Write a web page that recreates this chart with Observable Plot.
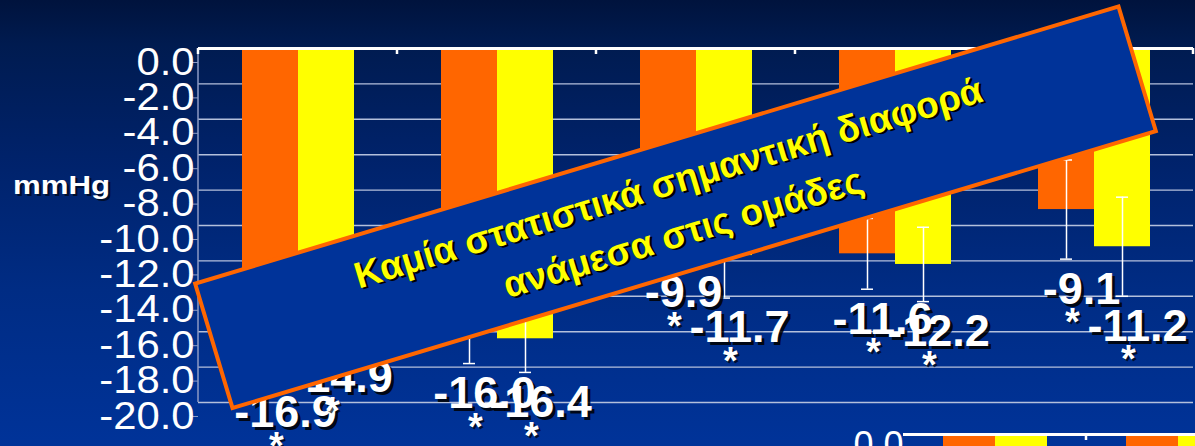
<!DOCTYPE html>
<html>
<head>
<meta charset="utf-8">
<script src="https://cdn.jsdelivr.net/npm/d3@7"></script>
<script src="https://cdn.jsdelivr.net/npm/@observablehq/plot@0.6"></script>
<style>
  html, body { margin: 0; padding: 0; width: 1195px; height: 446px; overflow: hidden; }
  body {
    position: relative;
    background: linear-gradient(to bottom, #00133d 0%, #001b50 10%, #00226a 35%, #002c84 65%, #003399 100%);
    font-family: "Liberation Sans", Arial, sans-serif;
  }
  #chart { position: absolute; left: 0; top: 0; }
  #chart2 { position: absolute; left: 0; top: 424px; }
  #ylabel {
    position: absolute; left: 13px; top: 172px; color: white; font-weight: bold;
    font-size: 26px; line-height: 1; transform: scaleX(1.2); transform-origin: left center;
    text-shadow: 2px 2px 0 rgba(0,0,0,0.6);
  }
</style>
</head>
<body>
<div id="chart"></div>
<div id="chart2"></div>
<div id="ylabel">mmHg</div>
<script>
// ---- data ----
const timepoints = ["T1", "T2", "T3", "T4", "T5"];
const series = ["Ομάδα Α", "Ομάδα Β"];
const valuesA = [-16.9, -16.0, -9.9, -11.6, -9.1];   // orange bars
const valuesB = [-14.9, -16.4, -11.7, -12.2, -11.2]; // yellow bars
const sdA = [2.0, 1.8, 2.2, 2.0, 2.8];
const sdB = [2.0, 1.9, 2.4, 2.1, 2.8];
const yTicks = [0, -2, -4, -6, -8, -10, -12, -14, -16, -18, -20];
const yLabel = "mmHg";
const bannerLines = ["Καμία στατιστικά σημαντική διαφορά", "ανάμεσα στις ομάδες"];
const seriesColors = ["#ff6600", "#ffff00"];
// second panel (only its top edge is visible at the bottom of the picture)
const panel2Timepoints = ["T1", "T2", "T3", "T4", "T5"];
const panel2A = valuesA;   // stand-in: bars extend beyond the visible area
const panel2B = valuesB;

const rows = timepoints.flatMap((t, i) => [
  {t, s: series[0], v: valuesA[i], sd: sdA[i]},
  {t, s: series[1], v: valuesB[i], sd: sdB[i]}
]);
const rows2 = panel2Timepoints.flatMap((t, i) => [
  {t, s: series[0], v: panel2A[i]},
  {t, s: series[1], v: panel2B[i]}
]);

const fmt = d => d.toFixed(1);
const lo = d => d.v - d.sd;
const hi = d => d.v + d.sd;
const baseStyle = {background: "transparent", color: "white", fontFamily: "'Liberation Sans', Arial, sans-serif", overflow: "visible", maxWidth: "none"};

const plot = Plot.plot({
  width: 1195,
  height: 446,
  marginLeft: 196,
  marginRight: 0,
  marginTop: 48,
  marginBottom: 44,
  style: baseStyle,
  fx: {domain: timepoints, padding: 0, axis: null},
  x: {domain: series, paddingInner: 0, paddingOuter: 0.75, axis: null},
  y: {domain: [-20, 0], axis: null},
  color: {domain: series, range: seriesColors},
  marks: [
    Plot.ruleY(yTicks.filter(d => d !== 0), {stroke: "#b4c0dc", strokeWidth: 1.4}),
    Plot.axisY({
      ticks: yTicks, tickFormat: fmt, tickSize: 8, tickPadding: -4, dy: 14,
      fontSize: 38, stroke: "#8c9ac4", fill: "white", label: null
    }),
    Plot.barY(rows, {fx: "t", x: "s", y: "v", fill: "s"}),
    Plot.ruleX(rows, {fx: "t", x: "s", y1: lo, y2: hi, stroke: "white", strokeWidth: 1.5}),
    Plot.tickY(rows, {fx: "t", x: "s", y: lo, stroke: "white", strokeWidth: 1.5, insetLeft: 22, insetRight: 22}),
    Plot.tickY(rows, {fx: "t", x: "s", y: hi, stroke: "white", strokeWidth: 1.5, insetLeft: 22, insetRight: 22}),
    Plot.ruleY([0], {stroke: "white", strokeWidth: 3}),
    // value labels with shadow
    Plot.text(rows, {fx: "t", x: "s", y: lo, text: d => fmt(d.v), dx: 18, dy: 33, fontSize: 45, fontWeight: "bold", fill: "black", fillOpacity: 0.85}),
    Plot.text(rows, {fx: "t", x: "s", y: lo, text: d => fmt(d.v), dx: 15, dy: 30, fontSize: 45, fontWeight: "bold", fill: "white"}),
    // significance asterisks
    Plot.text(rows, {fx: "t", x: "s", y: lo, text: () => "*", dx: 8, dy: 66, fontSize: 38, fontWeight: "bold", fill: "black", fillOpacity: 0.7}),
    Plot.text(rows, {fx: "t", x: "s", y: lo, text: () => "*", dx: 6, dy: 64, fontSize: 38, fontWeight: "bold", fill: "white"})
  ]
});
document.getElementById("chart").appendChild(plot);
document.getElementById("ylabel").textContent = yLabel;

const svg = d3.select(plot);
const yS = plot.scale("y");
const fxS = plot.scale("fx");
const y0 = yS.apply(0), yMin = yS.apply(-20);
const left = fxS.apply(timepoints[0]);

// stretch the y tick labels slightly as in the original slide
svg.selectAll("g[aria-label='y-axis tick label'] text").each(function() {
  const t = this.getAttribute("transform") || "";
  this.setAttribute("transform", t + " scale(1.1,1)");
});

// left axis line and the small ticks on the top axis
svg.append("line").attr("x1", left).attr("x2", left).attr("y1", y0).attr("y2", yMin)
  .attr("stroke", "#8c9ac4").attr("stroke-width", 1.5);
const edges = [left, ...timepoints.map(t => fxS.apply(t) + fxS.bandwidth)];
svg.append("g").selectAll("line").data(edges).join("line")
  .attr("x1", d => d).attr("x2", d => d).attr("y1", y0).attr("y2", y0 + 6)
  .attr("stroke", "white").attr("stroke-width", 2.5);

// rotated banner annotation
const cx = fxS.apply(timepoints[2]) + fxS.bandwidth / 2 - 20;
const cy = yS.apply(-9);
const banner = svg.append("g").attr("transform", `translate(${cx},${cy}) rotate(-16.7)`);
banner.append("rect").attr("x", -482).attr("y", -65).attr("width", 964).attr("height", 130)
  .attr("fill", "#003399").attr("stroke", "#ff6600").attr("stroke-width", 4);
const lineY = [-13, 39];
bannerLines.forEach((line, i) => {
  banner.append("text").attr("x", 2).attr("y", lineY[i] + 2).attr("text-anchor", "middle")
    .attr("font-size", 37).attr("font-weight", "bold").attr("fill", "black").text(line);
  banner.append("text").attr("x", 0).attr("y", lineY[i]).attr("text-anchor", "middle")
    .attr("font-size", 37).attr("font-weight", "bold").attr("fill", "#ffff00").text(line);
});

// second panel peeking in at the bottom
const k = 183 / 200;
const plot2 = Plot.plot({
  width: 903 + 183 * panel2Timepoints.length,
  height: Math.round(10 + 354 * k + 40),
  marginLeft: 903,
  marginRight: 0,
  marginTop: 10,
  marginBottom: 40,
  style: baseStyle,
  fx: {domain: panel2Timepoints, padding: 0, axis: null},
  x: {domain: series, paddingInner: 0, paddingOuter: 0.75, axis: null},
  y: {domain: [-20, 0], axis: null},
  color: {domain: series, range: seriesColors},
  marks: [
    Plot.axisY({ticks: yTicks, tickFormat: fmt, tickSize: 0, tickPadding: 0, dy: 11, fontSize: 36, fill: "white", label: null}),
    Plot.barY(rows2, {fx: "t", x: "s", y: "v", fill: "s"}),
    Plot.ruleY([0], {stroke: "white", strokeWidth: 3})
  ]
});
document.getElementById("chart2").appendChild(plot2);
const y2S = plot2.scale("y"), fx2S = plot2.scale("fx");
d3.select(plot2).append("g").selectAll("line")
  .data(panel2Timepoints.map(t => fx2S.apply(t) + fx2S.bandwidth)).join("line")
  .attr("x1", d => d).attr("x2", d => d).attr("y1", y2S.apply(0)).attr("y2", y2S.apply(0) + 6)
  .attr("stroke", "white").attr("stroke-width", 2.5);
</script>
</body>
</html>
